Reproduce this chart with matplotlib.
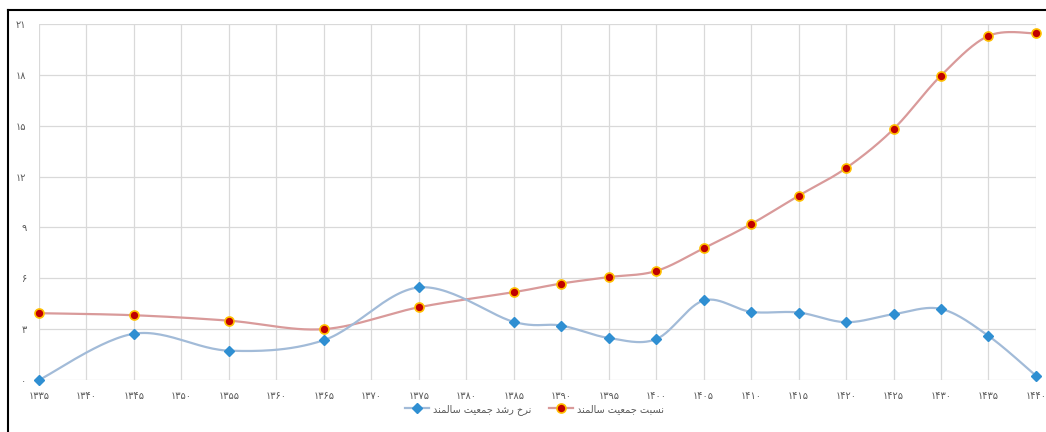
import numpy as np
import matplotlib
matplotlib.use("Agg")
import matplotlib.pyplot as plt
from matplotlib.lines import Line2D

# data
years = [1335, 1345, 1355, 1365, 1375, 1385, 1390, 1395, 1400,
         1405, 1410, 1415, 1420, 1425, 1430, 1435, 1440]
ratio = [3.94, 3.82, 3.5, 3.0, 4.29, 5.18, 5.69, 6.07, 6.43,
         7.77, 9.2, 10.87, 12.5, 14.8, 17.96, 20.3, 20.45]
growth = [0.0, 2.73, 1.73, 2.35, 5.46, 3.43, 3.21, 2.48, 2.41,
          4.69, 4.02, 3.98, 3.41, 3.88, 4.19, 2.6, 0.25]
xticks = list(range(1335, 1441, 5))
yticks = [0, 3, 6, 9, 12, 15, 18, 21]
label_ratio = "نسبت جمعیت سالمند"
label_growth = "نرخ رشد جمعیت سالمند"

# --- minimal persian shaping (matplotlib has no complex text layout) ---
FORMS = {  # iso, fin, ini, med
    "ا": (0xFE8D, 0xFE8E, None, None),
    "ب": (0xFE8F, 0xFE90, 0xFE91, 0xFE92),
    "ت": (0xFE95, 0xFE96, 0xFE97, 0xFE98),
    "ج": (0xFE9D, 0xFE9E, 0xFE9F, 0xFEA0),
    "خ": (0xFEA5, 0xFEA6, 0xFEA7, 0xFEA8),
    "د": (0xFEA9, 0xFEAA, None, None),
    "ر": (0xFEAD, 0xFEAE, None, None),
    "س": (0xFEB1, 0xFEB2, 0xFEB3, 0xFEB4),
    "ش": (0xFEB5, 0xFEB6, 0xFEB7, 0xFEB8),
    "ع": (0xFEC9, 0xFECA, 0xFECB, 0xFECC),
    "ل": (0xFEDD, 0xFEDE, 0xFEDF, 0xFEE0),
    "م": (0xFEE1, 0xFEE2, 0xFEE3, 0xFEE4),
    "ن": (0xFEE5, 0xFEE6, 0xFEE7, 0xFEE8),
    "ی": (0xFBFC, 0xFBFD, 0xFBFE, 0xFBFF),
}


def dual(c):
    return c in FORMS and FORMS[c][2] is not None


def shape(text):
    out = []
    for i, c in enumerate(text):
        if c not in FORMS:
            out.append(c)
            continue
        prev = text[i - 1] if i > 0 else ""
        nxt = text[i + 1] if i + 1 < len(text) else ""
        jp = dual(prev)
        jn = dual(c) and nxt in FORMS
        iso, fin, ini, med = FORMS[c]
        if jp and jn:
            code = med
        elif jp:
            code = fin
        elif jn:
            code = ini
        else:
            code = iso
        out.append(chr(code))
    return "".join(out[::-1])


def fa_num(n):
    return str(n).translate(str.maketrans("0123456789", "۰۱۲۳۴۵۶۷۸۹"))


def smooth(x, y, n=30):
    # excel style smoothed line (cardinal bezier)
    x = np.asarray(x, float)
    y = np.asarray(y, float)
    px = np.concatenate([[x[0]], x, [x[-1]]])
    py = np.concatenate([[y[0]], y, [y[-1]]])
    t = np.linspace(0, 1, n)[:, None]
    xs, ys = [], []
    for i in range(1, len(px) - 2):
        p0 = np.array([px[i], py[i]])
        p3 = np.array([px[i + 1], py[i + 1]])
        c1 = p0 + (np.array([px[i + 1], py[i + 1]]) - np.array([px[i - 1], py[i - 1]])) / 6
        c2 = p3 - (np.array([px[i + 2], py[i + 2]]) - p0) / 6
        pts = ((1 - t) ** 3) * p0 + 3 * ((1 - t) ** 2) * t * c1 + 3 * (1 - t) * t ** 2 * c2 + t ** 3 * p3
        xs.append(pts[:, 0])
        ys.append(pts[:, 1])
    return np.concatenate(xs), np.concatenate(ys)


plt.rcParams["font.family"] = ["DejaVu Sans"]

fig = plt.figure(figsize=(10.46, 4.32), dpi=100)
ax = fig.add_axes([0.0373, 0.1204, 0.9531, 0.824])

red_line = "#d99a9a"
blue_line = "#a2bbd8"

sx, sy = smooth(years, ratio)
ax.plot(sx, sy, color=red_line, lw=1.6, zorder=3, clip_on=False)
ax.plot(years, ratio, ls="none", marker="o", ms=6.5, mfc="#c00000", mec="#ffc000",
        mew=1.2, zorder=4, clip_on=False)

sx, sy = smooth(years, growth)
ax.plot(sx, sy, color=blue_line, lw=1.6, zorder=3, clip_on=False)
ax.plot(years, growth, ls="none", marker="D", ms=5.5, mfc="#2f8fd2", mec="#2f8fd2",
        zorder=4, clip_on=False)

ax.set_xlim(1335, 1440)
ax.set_ylim(0, 21)
ax.set_xticks(xticks)
ax.set_xticklabels([fa_num(v) for v in xticks])
ax.set_yticks(yticks)
ax.set_yticklabels([fa_num(v) for v in yticks])
ax.tick_params(length=0, labelsize=7, colors="#595959")
ax.tick_params(axis="x", pad=8)
ax.tick_params(axis="y", pad=9)
ax.grid(True, color="#d9d9d9", lw=0.9)
ax.set_axisbelow(True)
for s in ax.spines.values():
    s.set_visible(False)

h_growth = Line2D([], [], color=blue_line, lw=1.6, marker="D", ms=5.5,
                  mfc="#2f8fd2", mec="#2f8fd2")
h_ratio = Line2D([], [], color=red_line, lw=1.6, marker="o", ms=6.5,
                 mfc="#c00000", mec="#ffc000", mew=1.2)
leg = fig.legend([h_growth, h_ratio], [shape(label_growth), shape(label_ratio)],
                 loc="center", bbox_to_anchor=(0.511, 0.053), ncol=2, frameon=False,
                 fontsize=7, handlelength=2.4, columnspacing=1.9, handletextpad=0.4)
for t in leg.get_texts():
    t.set_color("#595959")

# screenshot frame on top and left
fig.add_artist(Line2D([8 / 1046, 1], [1 - 10 / 432, 1 - 10 / 432], color="black", lw=1.5,
                      transform=fig.transFigure))
fig.add_artist(Line2D([8 / 1046, 8 / 1046], [0, 1 - 10 / 432], color="black", lw=1.5,
                      transform=fig.transFigure))

fig.savefig("out.png", dpi=100)
